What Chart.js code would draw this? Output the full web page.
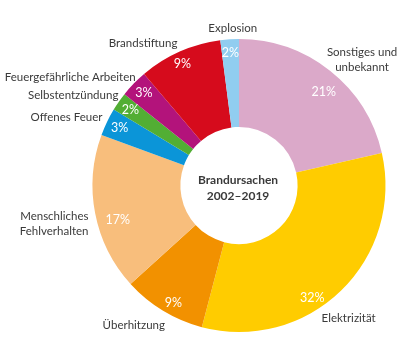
<!DOCTYPE html>
<html>
<head>
<meta charset="utf-8">
<script src="https://cdn.jsdelivr.net/npm/chart.js@4/dist/chart.umd.min.js"></script>
<style>
  html, body { margin: 0; padding: 0; background: #fff; }
</style>
</head>
<body>
<canvas id="brand-chart" width="409" height="351"></canvas>
<script>
// Daten: Brandursachen 2002–2019 (Prozent)
const causes = [
  ["Sonstiges und", "unbekannt"],
  ["Elektrizität"],
  ["Überhitzung"],
  ["Menschliches", "Fehlverhalten"],
  ["Offenes Feuer"],
  ["Selbstentzündung"],
  ["Feuergefährliche Arbeiten"],
  ["Brandstiftung"],
  ["Explosion"],
];
const shares = [21, 32, 9, 17, 3, 2, 3, 9, 2];
const colors = ["#dba9c9", "#ffcc00", "#f29100", "#f8be7c", "#0b95d8", "#52ae34", "#b3137b", "#d60b1c", "#91cdf0"];
const centerTitle = ["Brandursachen", "2002–2019"];

// Beschriftung aussen: Ausrichtung + kleine Verschiebung
const outerAlign = ["center", "center", "center", "right", "right", "right", "right", "center", "center"];
const outerNudge = [[23, 0], [-2, 18], [-22, 3], [7, 8], [8, 1], [11, 2], [12, 3], [-31, 5], [4, 3]];
// Prozentwerte innen: kleine Verschiebung
const pctNudge = [[2, 10], [-19, 17], [3, 4], [9, 9], [0, 0], [0, 0], [0, 0], [-3, 0], [0, 0]];

const FONT = "Lato, 'Open Sans', sans-serif";
const TEXT_COLOR = "#3a3a3a";

const labelPlugin = {
  id: "labelPlugin",
  afterDatasetsDraw(chart) {
    const ctx = chart.ctx;
    const meta = chart.getDatasetMeta(0);
    ctx.save();
    ctx.textBaseline = "middle";
    meta.data.forEach((arc, i) => {
      const { x, y, startAngle, endAngle, outerRadius } = arc.getProps(
        ["x", "y", "startAngle", "endAngle", "outerRadius"], true);
      const mid = (startAngle + endAngle) / 2;

      // Prozent innen
      const rIn = outerRadius * 0.905;
      ctx.fillStyle = "#fff";
      ctx.font = `12.5px ${FONT}`;
      ctx.textAlign = "center";
      ctx.fillText(shares[i] + "%",
        x + rIn * Math.cos(mid) + pctNudge[i][0],
        y + rIn * Math.sin(mid) + pctNudge[i][1]);

      // Name aussen
      const rOut = outerRadius + 14;
      const lx = x + rOut * Math.cos(mid) + outerNudge[i][0];
      const ly = y + rOut * Math.sin(mid) + outerNudge[i][1];
      const lines = causes[i];
      const lh = 15;
      ctx.fillStyle = TEXT_COLOR;
      ctx.font = `11.5px ${FONT}`;
      ctx.textAlign = outerAlign[i];
      lines.forEach((line, k) => {
        ctx.fillText(line, lx, ly + (k - (lines.length - 1) / 2) * lh);
      });
    });

    // Titel in der Mitte
    const c = meta.data[0];
    ctx.fillStyle = TEXT_COLOR;
    ctx.font = `bold 12px ${FONT}`;
    ctx.textAlign = "center";
    ctx.fillText(centerTitle[0], c.x - 1, c.y - 5);
    ctx.fillText(centerTitle[1], c.x - 1, c.y + 11);
    ctx.restore();
  },
};

new Chart(document.getElementById("brand-chart"), {
  type: "doughnut",
  data: {
    labels: causes.map((c) => c.join(" ")),
    datasets: [
      {
        data: shares,
        backgroundColor: colors,
        borderWidth: 0,
      },
    ],
  },
  options: {
    responsive: false,
    animation: false,
    cutout: "40%",
    layout: { padding: { left: 91, right: 22, top: 39, bottom: 19 } },
    plugins: {
      legend: { display: false },
      tooltip: { enabled: false },
    },
  },
  plugins: [labelPlugin],
});
</script>
</body>
</html>
